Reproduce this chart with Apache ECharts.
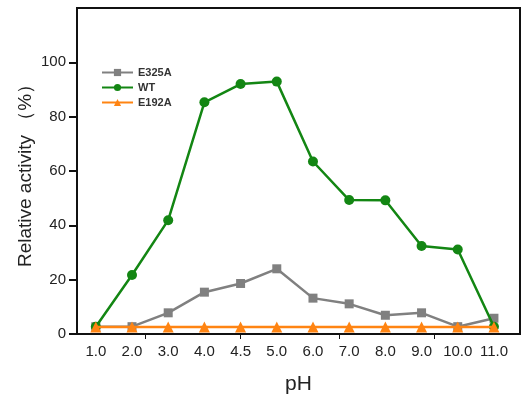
<!DOCTYPE html>
<html><head><meta charset="utf-8">
<script src="https://cdn.jsdelivr.net/npm/echarts@6/dist/echarts.min.js"></script>
<style>html,body{margin:0;padding:0;background:#fff}#c{width:522px;height:401px}</style>
</head><body><div id="c"></div>
<script>
const categories = ['1.0','2.0','3.0','4.0','4.5','5.0','6.0','7.0','8.0','9.0','10.0','11.0'];
const e325a = [2.7, 2.7, 7.8, 15.4, 18.6, 24.0, 13.2, 11.1, 6.9, 7.8, 2.7, 5.8];
const wt = [2.7, 21.7, 41.9, 85.3, 92.0, 92.9, 63.5, 49.3, 49.2, 32.4, 31.1, 2.7];
const e192a = [2.6, 2.6, 2.6, 2.6, 2.6, 2.6, 2.6, 2.6, 2.6, 2.6, 2.6, 2.6];
const yTicks = [0, 20, 40, 60, 80, 100];
const xDecoTicks = [1.36, 4.0, 6.72, 9.35];

const toPairs = arr => arr.map((v, i) => [i, v]);
const font = '"Liberation Sans", Arial, sans-serif';
const chart = echarts.init(document.getElementById('c'), null, {renderer: 'canvas'});
chart.setOption({
  animation: false,
  backgroundColor: '#fff',
  grid: {left: 77, right: 2, top: 8, bottom: 67, show: true, borderColor: '#111', borderWidth: 2, backgroundColor: 'transparent'},
  legend: {
    orient: 'vertical', left: 96, top: 62, itemWidth: 31, itemHeight: 9, itemGap: 4,
    textStyle: {fontFamily: font, fontSize: 11, fontWeight: 'bold', color: '#333'},
    data: ['E325A', 'WT', 'E192A']
  },
  xAxis: {
    type: 'value', min: -0.52, max: 11.72,
    splitLine: {show: false},
    axisLine: {show: true, onZero: false, lineStyle: {color: '#111', width: 2}},
    axisTick: {show: true, customValues: xDecoTicks, length: 5, lineStyle: {color: '#111', width: 1}},
    axisLabel: {customValues: categories.map((c, i) => i), formatter: v => categories[Math.round(v)] || '',
      fontFamily: font, fontSize: 15, color: '#222', margin: 10},
    name: 'pH', nameLocation: 'middle', nameGap: 40, nameMoveOverlap: false,
    nameTextStyle: {fontFamily: font, fontSize: 21, color: '#222'}
  },
  yAxis: {
    type: 'value', min: 0, max: 120,
    splitLine: {show: false},
    axisLine: {show: true, onZero: false, lineStyle: {color: '#111', width: 2}},
    axisTick: {show: true, customValues: yTicks, length: 8, lineStyle: {color: '#111', width: 2}},
    axisLabel: {customValues: yTicks, fontFamily: font, fontSize: 15, color: '#222', margin: 11},
    name: 'Relative activity （%）', nameLocation: 'middle', nameGap: 42, nameRotate: 90, nameMoveOverlap: false,
    nameTextStyle: {fontFamily: font, fontSize: 19, color: '#222'}
  },
  series: [
    {name: 'E325A', type: 'line', data: toPairs(e325a), symbol: 'rect', symbolSize: 9,
      itemStyle: {color: '#808080'}, lineStyle: {color: '#808080', width: 2.5}, z: 2},
    {name: 'WT', type: 'line', data: toPairs(wt), symbol: 'circle', symbolSize: 10,
      itemStyle: {color: '#138613'}, lineStyle: {color: '#138613', width: 2.5}, z: 3},
    {name: 'E192A', type: 'line', data: toPairs(e192a), symbol: 'triangle', symbolSize: 11,
      itemStyle: {color: '#ff8412'}, lineStyle: {color: '#ff8412', width: 2.5}, z: 4}
  ]
});
</script></body></html>
